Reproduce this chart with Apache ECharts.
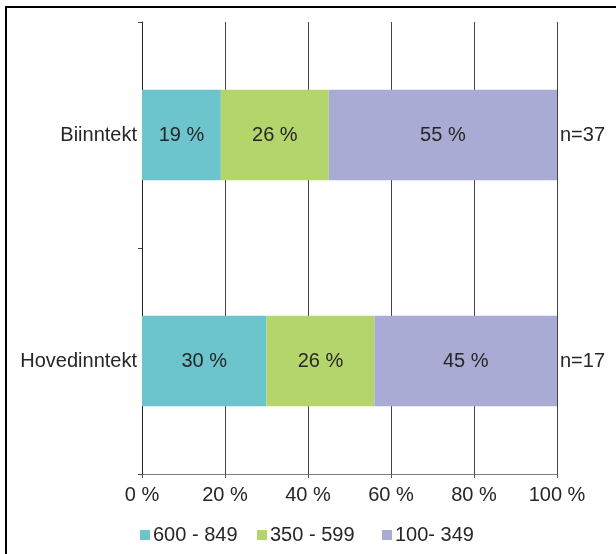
<!DOCTYPE html>
<html>
<head>
<meta charset="utf-8">
<script src="https://cdn.jsdelivr.net/npm/echarts@6/dist/echarts.min.js"></script>
<style>
    html, body { margin: 0; padding: 0; background: #fff; }
    #chart { width: 616px; height: 554px; }
</style>
</head>
<body>
<div id="chart"></div>
<script>
( () => {
    const categories = [ 'Biinntekt', 'Hovedinntekt' ];
    const sampleSizes = [ 'n=37', 'n=17' ];
    const seriesNames = [ '600 - 849', '350 - 599', '100- 349' ];
    const high = [ 19, 30 ];
    const middle = [ 26, 26 ];
    const low = [ 55, 45 ];
    const valueTicks = [ 0, 20, 40, 60, 80, 100 ];

    const colors = [ '#6cc4cc', '#b4d56c', '#aaabd5' ];
    const font = 'Liberation Sans, Arial, sans-serif';
    const fontSize = 20;
    const legendLefts = [ 135, 252, 377 ];

    const chart = echarts.init( document.getElementById( 'chart' ), null, { renderer: 'canvas' } );

    const makeSeries = ( name, data, i ) => ( {
        name: name,
        type: 'bar',
        stack: 'total',
        data: data,
        barWidth: '40%',
        itemStyle: { color: colors[ i ] },
        label: {
            show: true,
            position: 'inside',
            formatter: ( p ) => p.value + ' %',
            color: '#262626',
            fontFamily: font,
            fontSize: fontSize,
        },
    } );

    // one legend per entry, the original spacing is not even
    const legends = seriesNames.map( ( name, i ) => ( {
        left: legendLefts[ i ],
        top: 520,
        itemWidth: 10,
        itemHeight: 10,
        icon: 'rect',
        textStyle: { color: '#262626', fontFamily: font, fontSize: fontSize, padding: [ 0, 0, 0, -2 ] },
        data: [ name ],
    } ) );

    chart.setOption( {
        animation: false,
        color: colors,
        graphic: [
            {
                type: 'rect',
                shape: { x: 6, y: 7, width: 700, height: 700 },
                style: { fill: 'none', stroke: '#000', lineWidth: 2 },
                z: 100,
            },
        ],
        grid: {
            left: 142,
            right: 59,
            top: 22,
            bottom: 80,
        },
        legend: legends,
        xAxis: {
            type: 'value',
            min: valueTicks[ 0 ],
            max: valueTicks[ valueTicks.length - 1 ],
            interval: valueTicks[ 1 ] - valueTicks[ 0 ],
            axisLine: { show: true, lineStyle: { color: '#808080', width: 1 } },
            axisTick: { show: true, length: 4, lineStyle: { color: '#555' } },
            axisLabel: {
                formatter: '{value} %',
                color: '#262626',
                fontFamily: font,
                fontSize: fontSize,
                margin: 11,
            },
            splitLine: { show: true, lineStyle: { color: '#444', width: 1 } },
        },
        yAxis: [
            {
                type: 'category',
                data: categories,
                inverse: true,
                axisLine: { show: true, lineStyle: { color: '#222', width: 1 } },
                axisTick: { show: true, length: 4, lineStyle: { color: '#444' } },
                axisLabel: {
                    color: '#262626',
                    fontFamily: font,
                    fontSize: fontSize,
                    margin: 5,
                },
            },
            {
                type: 'category',
                data: sampleSizes,
                inverse: true,
                position: 'right',
                axisLine: { show: false },
                axisTick: { show: false },
                axisLabel: {
                    color: '#262626',
                    fontFamily: font,
                    fontSize: fontSize,
                    margin: 3,
                },
            },
        ],
        series: [
            makeSeries( seriesNames[ 0 ], high, 0 ),
            makeSeries( seriesNames[ 1 ], middle, 1 ),
            makeSeries( seriesNames[ 2 ], low, 2 ),
        ],
    } );
} ) ();
</script>
</body>
</html>
